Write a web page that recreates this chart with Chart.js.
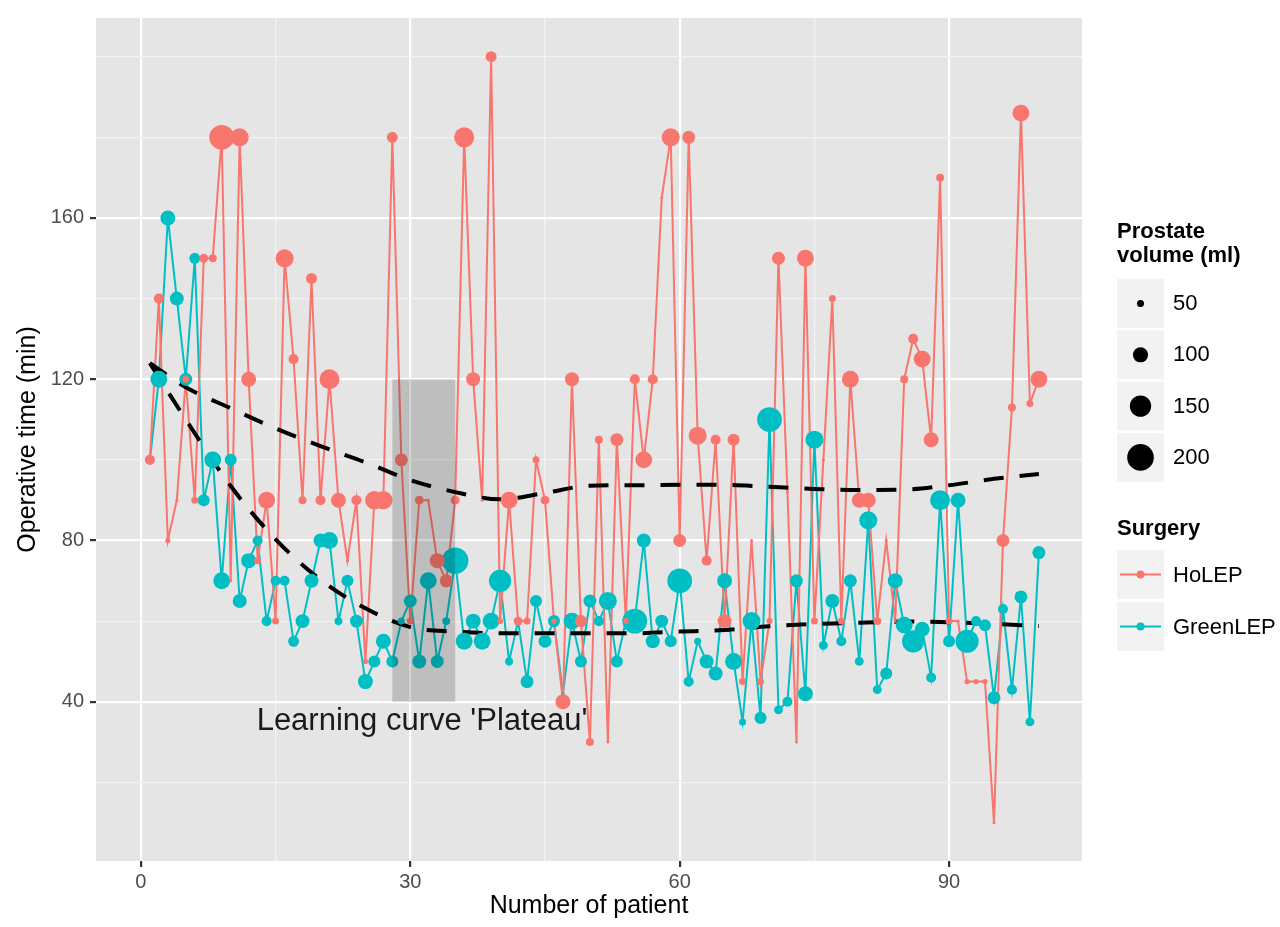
<!DOCTYPE html>
<html>
<head>
<meta charset="utf-8">
<script src="https://cdn.jsdelivr.net/npm/chart.js@4.4.0/dist/chart.umd.min.js"></script>
<style>
  html, body { margin: 0; padding: 0; background: #fff; }
  #wrap { width: 1280px; height: 927px; }
</style>
</head>
<body>
<div id="wrap"><canvas id="chart" width="1280" height="927"></canvas></div>
<script>
// patient number 1..100
const patients = Array.from({ length: 100 }, (_, i) => i + 1);

// operative time (min)
const holepTime = [
  100, 140, 80, 90, 120, 90, 150, 150, 180, 70,
  180, 120, 75, 90, 60, 150, 125, 90, 145, 90,
  120, 90, 75, 90, 50, 90, 90, 180, 100, 60,
  90, 90, 75, 70, 90, 180, 120, 90, 200, 60,
  90, 60, 60, 100, 90, 60, 40, 120, 60, 30,
  105, 30, 105, 60, 120, 100, 120, 165, 180, 80,
  180, 106, 75, 105, 60, 105, 45, 80, 45, 60,
  150, 92, 30, 150, 60, 100, 140, 60, 120, 90,
  90, 60, 80, 60, 120, 130, 125, 105, 170, 60,
  60, 45, 45, 45, 10, 80, 113, 186, 114, 120
];
const greenTime = [
  100, 120, 160, 140, 120, 150, 90, 100, 70, 100,
  65, 75, 80, 60, 70, 70, 55, 60, 70, 80,
  80, 60, 70, 60, 45, 50, 55, 50, 60, 65,
  50, 70, 50, 60, 75, 55, 60, 55, 60, 70,
  50, 60, 45, 65, 55, 60, 42, 60, 50, 65,
  60, 65, 50, 60, 60, 80, 55, 60, 55, 70,
  45, 55, 50, 47, 70, 50, 35, 60, 36, 110,
  38, 40, 70, 42, 105, 54, 65, 55, 70, 50,
  85, 43, 47, 70, 59, 55, 58, 46, 90, 55,
  90, 55, 60, 59, 41, 63, 43, 66, 35, 77
];

// prostate volume (ml)
const holepVol = [
  67, 67, 41, 32, 50, 50, 60, 55, 182, 32,
  122, 99, 50, 113, 50, 122, 67, 55, 72, 67,
  138, 99, 32, 67, 41, 125, 125, 72, 85, 50,
  60, 32, 99, 85, 60, 138, 92, 32, 72, 45,
  113, 60, 50, 50, 60, 41, 99, 92, 79, 55,
  55, 32, 85, 45, 67, 113, 67, 32, 122, 85,
  85, 122, 67, 67, 92, 79, 50, 32, 50, 45,
  85, 32, 32, 113, 50, 32, 50, 50, 113, 99,
  99, 55, 32, 32, 55, 67, 113, 99, 55, 50,
  32, 41, 41, 41, 32, 85, 55, 113, 50, 113
];
const greenVol = [
  41, 113, 99, 92, 85, 72, 79, 113, 113, 79,
  92, 99, 67, 67, 67, 67, 72, 92, 92, 92,
  113, 55, 79, 85, 99, 79, 99, 79, 50, 85,
  92, 113, 85, 55, 198, 113, 99, 113, 113, 158,
  55, 50, 85, 79, 85, 79, 32, 113, 79, 85,
  67, 122, 79, 50, 182, 92, 92, 85, 79, 182,
  67, 50, 92, 92, 99, 113, 50, 122, 79, 182,
  60, 67, 85, 99, 122, 60, 92, 67, 85, 60,
  122, 60, 79, 99, 113, 158, 99, 67, 138, 79,
  99, 166, 67, 79, 85, 67, 67, 85, 60, 85
];

// dashed smooth lines
const trendX = [1, 5, 10, 15, 20, 25, 30, 35, 40, 45, 50, 55, 60, 65, 70, 75, 80, 85, 90, 95, 100];
const trendHolep = [124, 118, 112.8, 107.8, 103.4, 99.4, 95, 92, 90.2, 91.8, 93.6, 93.7, 93.8, 93.8, 93.3, 92.8, 92.5, 92.6, 93.7, 95.3, 96.5];
const trendGreen = [124, 110, 93.5, 80.3, 70.3, 63.2, 58.5, 57.4, 57, 57, 57, 57, 57.4, 57.8, 58.7, 59.3, 59.6, 59.9, 59.7, 59.3, 58.8];

// axes
const xTicks = [0, 15, 30, 45, 60, 75, 90];
const xLabels = [0, 30, 60, 90];
const yTicks = [20, 40, 60, 80, 100, 120, 140, 160, 180, 200];
const yLabels = [40, 80, 120, 160];

// legend
const sizeBreaks = [50, 100, 150, 200];
const surgeries = ['HoLEP', 'GreenLEP'];

// plateau band
const plateau = { x0: 28, x1: 35, y0: 40, y1: 120, label: "Learning curve 'Plateau'", lx: 31.3, ly: 35 };

const RED = '#F8766D';
const TEAL = '#00BFC4';
const FONT = '"Liberation Sans", Arial, Helvetica, sans-serif';

const radius = v => Math.max(1.2, -6.3 + 1.386 * Math.sqrt(v));
const pts = ys => patients.map((p, i) => ({ x: p, y: ys[i] }));
const trend = ys => trendX.map((p, i) => ({ x: p, y: ys[i] }));

const panelPlugin = {
  id: 'panel',
  beforeDraw(chart) {
    const { ctx, chartArea: a } = chart;
    ctx.save();
    ctx.fillStyle = '#E5E5E5';
    ctx.fillRect(a.left, a.top, a.right - a.left, a.bottom - a.top);
    ctx.restore();
  },
  afterDatasetsDraw(chart) {
    const { ctx, scales: { x, y } } = chart;
    ctx.save();
    ctx.fillStyle = 'rgba(0,0,0,0.17)';
    const l = x.getPixelForValue(plateau.x0), r = x.getPixelForValue(plateau.x1);
    const t = y.getPixelForValue(plateau.y1), b = y.getPixelForValue(plateau.y0);
    ctx.fillRect(l, t, r - l, b - t);
    ctx.fillStyle = '#1a1a1a';
    ctx.font = '31px ' + FONT;
    ctx.textAlign = 'center';
    ctx.textBaseline = 'middle';
    ctx.fillText(plateau.label, x.getPixelForValue(plateau.lx), y.getPixelForValue(plateau.ly));
    ctx.restore();
  },
  afterDraw(chart) {
    const { ctx, chartArea: a } = chart;
    ctx.save();
    ctx.fillStyle = '#000';
    ctx.font = '25px ' + FONT;
    ctx.textAlign = 'center';
    ctx.textBaseline = 'middle';
    ctx.fillText('Number of patient', (a.left + a.right) / 2, 906);
    ctx.translate(28, (a.top + a.bottom) / 2);
    ctx.rotate(-Math.PI / 2);
    ctx.fillText('Operative time (min)', 0, 0);
    ctx.restore();

    // size legend
    ctx.save();
    const lx = 1117, bw = 47;
    ctx.fillStyle = '#000';
    ctx.font = 'bold 22px ' + FONT;
    ctx.textAlign = 'left';
    ctx.textBaseline = 'alphabetic';
    ctx.fillText('Prostate', lx, 238);
    ctx.fillText('volume (ml)', lx, 262);
    sizeBreaks.forEach((v, i) => {
      const top = 279 + i * 51.3;
      ctx.fillStyle = '#F2F2F2';
      ctx.fillRect(lx, top, bw, 49);
      ctx.fillStyle = '#000';
      ctx.beginPath();
      ctx.arc(lx + bw / 2, top + 24.5, radius(v), 0, Math.PI * 2);
      ctx.fill();
      ctx.font = '22px ' + FONT;
      ctx.textBaseline = 'middle';
      ctx.fillText(String(v), 1173, top + 25);
    });

    // colour legend
    ctx.textBaseline = 'alphabetic';
    ctx.font = 'bold 22px ' + FONT;
    ctx.fillText('Surgery', lx, 535);
    [RED, TEAL].forEach((c, i) => {
      const top = 550 + i * 52;
      ctx.fillStyle = '#F2F2F2';
      ctx.fillRect(lx, top, bw, 49);
      const cy = top + 24.5;
      ctx.strokeStyle = c;
      ctx.lineWidth = 2;
      ctx.beginPath();
      ctx.moveTo(lx + 3, cy);
      ctx.lineTo(lx + bw - 3, cy);
      ctx.stroke();
      ctx.fillStyle = c;
      ctx.beginPath();
      ctx.arc(lx + bw / 2, cy, 4, 0, Math.PI * 2);
      ctx.fill();
      ctx.fillStyle = '#000';
      ctx.font = '22px ' + FONT;
      ctx.textBaseline = 'middle';
      ctx.fillText(surgeries[i], 1173, cy + 1);
    });
    ctx.restore();
  }
};

const gridOf = (labels) => ({
  color: c => (c.tick && labels.includes(c.tick.value)) ? '#FFFFFF' : '#F3F3F3',
  lineWidth: c => (c.tick && labels.includes(c.tick.value)) ? 2.2 : 1.2,
  tickColor: c => (c.tick && labels.includes(c.tick.value)) ? '#333333' : 'rgba(0,0,0,0)',
  tickLength: 6,
  drawTicks: true
});

new Chart(document.getElementById('chart'), {
  type: 'scatter',
  data: {
    datasets: [
      {
        label: 'HoLEP',
        data: pts(holepTime),
        showLine: false,
        pointRadius: c => radius(holepVol[c.dataIndex]),
        pointBackgroundColor: RED,
        pointBorderWidth: 0,
        pointHoverRadius: c => radius(holepVol[c.dataIndex])
      },
      {
        label: 'GreenLEP',
        data: pts(greenTime),
        showLine: false,
        pointRadius: c => radius(greenVol[c.dataIndex]),
        pointBackgroundColor: TEAL,
        pointBorderWidth: 0,
        pointHoverRadius: c => radius(greenVol[c.dataIndex])
      },
      {
        label: 'HoLEP trend',
        data: trend(trendHolep),
        showLine: true,
        pointRadius: 0,
        borderColor: '#000',
        borderWidth: 4,
        borderDash: [20, 16],
        cubicInterpolationMode: 'monotone'
      },
      {
        label: 'GreenLEP trend',
        data: trend(trendGreen),
        showLine: true,
        pointRadius: 0,
        borderColor: '#000',
        borderWidth: 4,
        borderDash: [20, 16],
        cubicInterpolationMode: 'monotone'
      },
      {
        label: 'HoLEP line',
        data: pts(holepTime),
        showLine: true,
        pointRadius: 0,
        borderColor: RED,
        borderWidth: 2,
        tension: 0
      },
      {
        label: 'GreenLEP line',
        data: pts(greenTime),
        showLine: true,
        pointRadius: 0,
        borderColor: TEAL,
        borderWidth: 2,
        tension: 0
      }
    ]
  },
  options: {
    responsive: false,
    animation: false,
    devicePixelRatio: 1,
    layout: { padding: { left: 0, right: 198, top: 12, bottom: 0 } },
    plugins: { legend: { display: false }, tooltip: { enabled: false } },
    scales: {
      x: {
        type: 'linear',
        min: -5,
        max: 104.8,
        afterBuildTicks: s => { s.ticks = xTicks.map(v => ({ value: v })); },
        afterFit: s => { s.height = 66; },
        border: { display: false },
        grid: gridOf(xLabels),
        ticks: {
          autoSkip: false,
          maxRotation: 0,
          padding: 3,
          color: '#4D4D4D',
          font: { family: FONT, size: 20 },
          callback: v => xLabels.includes(v) ? String(v) : ''
        }
      },
      y: {
        type: 'linear',
        min: 0.5,
        max: 209.6,
        afterBuildTicks: s => { s.ticks = yTicks.map(v => ({ value: v })); },
        afterFit: s => { s.width = 96; },
        border: { display: false },
        grid: gridOf(yLabels),
        ticks: {
          autoSkip: false,
          padding: 6,
          color: '#4D4D4D',
          font: { family: FONT, size: 20 },
          callback: v => yLabels.includes(v) ? String(v) : ''
        }
      }
    }
  },
  plugins: [panelPlugin]
});
</script>
</body>
</html>
